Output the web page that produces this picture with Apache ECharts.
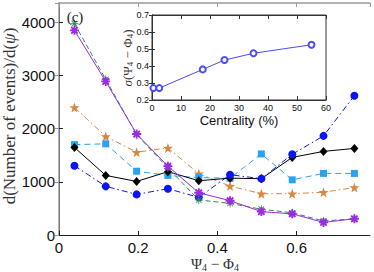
<!DOCTYPE html>
<html>
<head>
<meta charset="utf-8">
<script src="https://cdn.jsdelivr.net/npm/echarts@6/dist/echarts.min.js"></script>
<style>html,body{margin:0;padding:0;background:#fff}#c{width:374px;height:272px}</style>
</head>
<body>
<div id="c"></div>
<script>
// bin centres of Psi4 - Phi4
const binCenters = [0.039, 0.118, 0.196, 0.275, 0.353, 0.432, 0.511, 0.589, 0.668, 0.746];
const purpleVals = [3850, 2890, 1900, 1295, 795, 645, 440, 398, 237, 305];
const greenVals  = [3975, 2930, 1890, 1260, 660, 595, 485, 418, 265, 303];
const orangeVals = [2400, 1855, 1558, 1637, 1153, 920, 777, 777, 805, 893];
const skyVals    = [1700, 1715, 1200, 1121, 1080, 1068, 1525, 1038, 1159, 1159];
const blackVals  = [1648, 1121, 1008, 1191, 1021, 1070, 1059, 1460, 1573, 1629];
const blueVals   = [1304, 915, 764, 871, 708, 1134, 1060, 1518, 1865, 2621];
// inset
const centrality = [0.5, 2.5, 17.5, 25, 35, 55];
const sigmaVals  = [0.27, 0.27, 0.38, 0.435, 0.475, 0.525];
const mainXTicks = ['0', '0.2', '0.4', '0.6'];
const mainYTicks = ['0', '1000', '2000', '3000', '4000'];

const pair = (xs, ys) => xs.map((x, i) => [x, ys[i]]);

const STAR5 = 'path://M0,-10 L2.35,-3.24 L9.51,-3.09 L3.8,1.24 L5.88,8.09 L0,4 L-5.88,8.09 L-3.8,1.24 L-9.51,-3.09 L-2.35,-3.24 Z';
function asterisk(w) {
  const h = w / 2, a = Math.SQRT1_2;
  const rot = (x, y) => [((x - y) * a).toFixed(3), ((x + y) * a).toFixed(3)];
  const p1 = [rot(-h, -1), rot(h, -1), rot(h, 1), rot(-h, 1)];
  const p2 = p1.map(([x, y]) => [(-x).toFixed(3), y]).reverse();
  const poly = pts => 'M' + pts.map(p => p.join(',')).join(' L') + ' Z';
  return 'path://' +
    `M${-h},-1 L${h},-1 L${h},1 L${-h},1 Z ` +
    `M-1,${-h} L1,${-h} L1,${h} L-1,${h} Z ` +
    poly(p1) + ' ' + poly(p2);
}

const sans = 'Liberation Sans, Arial, sans-serif';
const serif = 'Liberation Serif, Times New Roman, serif';

function mkAxisX(grid, pos, min, max, interval, showLabels, lineColor, lineWidth, fs, fmt, margin) {
  return {
    type: 'value', gridIndex: grid, position: pos, min, max, interval,
    axisLine: { show: true, onZero: false, lineStyle: { color: lineColor, width: lineWidth } },
    axisTick: { show: true, inside: true, length: 4, lineStyle: { color: lineColor } },
    axisLabel: { show: showLabels, fontFamily: sans, fontSize: fs, color: '#111', margin, formatter: fmt, showMinLabel: true },
    splitLine: { show: false }
  };
}

const option = {
  animation: false,
  backgroundColor: '#fff',
  grid: [
    { left: 59, top: 3, width: 311, height: 232, show: false },
    { left: 152, top: 15, width: 174, height: 85, show: true, backgroundColor: '#fff', borderColor: '#333', borderWidth: 1, z: 5 }
  ],
  xAxis: [
    Object.assign(mkAxisX(0, 'bottom', 0, Math.PI / 4, 0.2, true, '#222', 1, 15, null, 5), { axisLabel: { fontFamily: sans, fontSize: 15, color: '#111', margin: 5, showMinLabel: true, showMaxLabel: false, formatter: v => { const i = Math.round(v / 0.2); return i === 0 ? '' : (mainXTicks[i] || ''); } } }),
    mkAxisX(0, 'top', 0, Math.PI / 4, 0.2, false, '#999', 1.5, 15, null, 5),
    Object.assign(mkAxisX(1, 'bottom', 0, 60, 10, true, '#333', 1, 9, v => String(Math.round(v)), 3), { z: 6 }),
    Object.assign(mkAxisX(1, 'top', 0, 60, 10, false, '#333', 1, 9, null, 3), { z: 6 })
  ],
  yAxis: [
    { type: 'value', gridIndex: 0, position: 'left', min: 0, max: 4365, interval: 1000,
      axisLine: { show: true, lineStyle: { color: '#222' } },
      axisTick: { show: true, inside: true, length: 4, lineStyle: { color: '#222' } },
      axisLabel: { fontFamily: sans, fontSize: 15, color: '#111', margin: 4, showMinLabel: true, showMaxLabel: false, formatter: v => mainYTicks[Math.round(v / 1000)] || '' },
      splitLine: { show: false } },
    { type: 'value', gridIndex: 0, position: 'right', min: 0, max: 4365, interval: 1000,
      axisLine: { show: true, lineStyle: { color: '#999', width: 1.5 } },
      axisTick: { show: true, inside: true, length: 4, lineStyle: { color: '#999' } },
      axisLabel: { show: false }, splitLine: { show: false } },
    { type: 'value', gridIndex: 1, position: 'left', min: 0.2, max: 0.7, interval: 0.1, z: 6,
      axisLine: { show: true, lineStyle: { color: '#333' } },
      axisTick: { show: true, inside: true, length: 3, lineStyle: { color: '#333' } },
      axisLabel: { fontFamily: sans, fontSize: 9, color: '#111', margin: 3, formatter: v => v.toFixed(1) },
      splitLine: { show: false } },
    { type: 'value', gridIndex: 1, position: 'right', min: 0.2, max: 0.7, interval: 0.1, z: 6,
      axisLine: { show: true, lineStyle: { color: '#333' } },
      axisTick: { show: true, inside: true, length: 3, lineStyle: { color: '#333' } },
      axisLabel: { show: false }, splitLine: { show: false } }
  ],
  series: [
    { name: 'orange', type: 'line', xAxisIndex: 0, yAxisIndex: 0, data: pair(binCenters, orangeVals),
      symbol: STAR5, symbolSize: 10, itemStyle: { color: '#D4893F' },
      lineStyle: { color: '#D4893F', width: 1, type: [6, 3, 1.5, 3] } },
    { name: 'sky', type: 'line', xAxisIndex: 0, yAxisIndex: 0, data: pair(binCenters, skyVals),
      symbol: 'rect', symbolSize: 7, itemStyle: { color: '#2AA2F0' },
      lineStyle: { color: '#2AA2F0', width: 1, type: [6, 4] } },
    { name: 'black', type: 'line', xAxisIndex: 0, yAxisIndex: 0, data: pair(binCenters, blackVals),
      symbol: 'diamond', symbolSize: [8, 9], itemStyle: { color: '#000' },
      lineStyle: { color: '#000', width: 1, type: 'solid' } },
    { name: 'blue', type: 'line', xAxisIndex: 0, yAxisIndex: 0, data: pair(binCenters, blueVals),
      symbol: 'circle', symbolSize: 8, itemStyle: { color: '#0A14F5' },
      lineStyle: { color: '#0A14F5', width: 1, type: [6, 3, 1.5, 3] } },
    { name: 'green', type: 'line', xAxisIndex: 0, yAxisIndex: 0, data: pair(binCenters, greenVals),
      symbol: asterisk(0.2), symbolSize: 8, itemStyle: { color: '#2E8B57' },
      lineStyle: { color: '#2E8B57', width: 1, type: [5, 3] } },
    { name: 'purple', type: 'line', xAxisIndex: 0, yAxisIndex: 0, data: pair(binCenters, purpleVals),
      symbol: asterisk(0.42), symbolSize: 9, itemStyle: { color: '#9A2BE0' },
      lineStyle: { color: '#9A2BE0', width: 1, type: 'solid' } },
    { name: 'sigma', type: 'line', xAxisIndex: 2, yAxisIndex: 2, data: pair(centrality, sigmaVals), z: 7,
      symbol: 'emptyCircle', symbolSize: 6, itemStyle: { color: '#4B4BFF', borderColor: '#4B4BFF', borderWidth: 1 },
      lineStyle: { color: '#4B4BFF', width: 1 } }
  ],
  graphic: [
    { type: 'text', x: 59, y: 247, z: 10, style: { text: mainXTicks[0], font: '15px ' + sans, fill: '#111', textAlign: 'center', textVerticalAlign: 'middle' } },
    { type: 'text', x: 75, y: 17, z: 10, style: { text: '(c)', font: '15px ' + serif, fill: '#222', textAlign: 'center', textVerticalAlign: 'middle' } },
    { type: 'text', x: 9, y: 116, rotation: Math.PI / 2, z: 10,
      style: { text: '{n|d(Number of events)/d(}{i|ψ}{n|)}', textAlign: 'center', textVerticalAlign: 'middle',
        rich: { n: { font: '17px ' + serif, fill: '#333' }, i: { font: 'italic 17px ' + serif, fill: '#333' } } } },
    { type: 'text', x: 215, y: 264, z: 10,
      style: { text: '{n|Ψ}{s|4}{n| − Φ}{s|4}', textAlign: 'center', textVerticalAlign: 'middle',
        rich: { n: { font: '15px ' + serif, fill: '#333' }, s: { font: '10px ' + serif, fill: '#333', padding: [6, 0, 0, 0] } } } },
    { type: 'text', x: 127, y: 58, rotation: Math.PI / 2, z: 10,
      style: { text: '{i|σ}{n|(Ψ}{s|4}{n| − Φ}{s|4}{n|)}', textAlign: 'center', textVerticalAlign: 'middle',
        rich: { n: { font: '13px ' + serif, fill: '#333' }, i: { font: 'italic 13px ' + serif, fill: '#333' }, s: { font: '9px ' + serif, fill: '#333', padding: [6, 0, 0, 0] } } } },
    { type: 'text', x: 239, y: 120, z: 10, style: { text: 'Centrality (%)', font: '13px ' + sans, fill: '#111', textAlign: 'center', textVerticalAlign: 'middle' } }
  ]
};

const chart = echarts.init(document.getElementById('c'), null, { renderer: 'svg' });
chart.setOption(option);
</script>
</body>
</html>
